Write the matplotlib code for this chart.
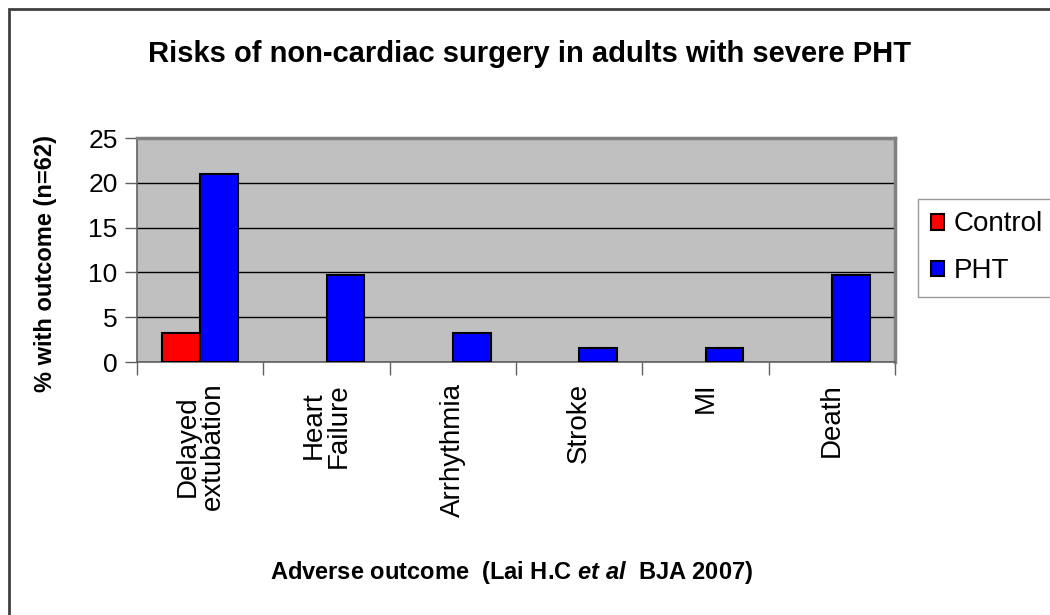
import numpy as np
import matplotlib.pyplot as plt
from matplotlib.patches import Rectangle

plt.rcParams['font.family'] = ['Liberation Sans', 'DejaVu Sans']
plt.rcParams['mathtext.fontset'] = 'custom'
plt.rcParams['mathtext.it'] = 'Liberation Sans:italic:bold'
plt.rcParams['mathtext.rm'] = 'Liberation Sans:bold'

categories = ['Delayed\nextubation', 'Heart\nFailure', 'Arrhythmia', 'Stroke', 'MI', 'Death']
control = [3.2, 0, 0, 0, 0, 0]
pht = [21.0, 9.7, 3.2, 1.6, 1.6, 9.7]
series_names = ['Control', 'PHT']
colors = ['#FF0000', '#0000FF']

fig = plt.figure(figsize=(10.5, 6.15), dpi=100)
ax = fig.add_axes([137 / 1050, 1 - 362 / 615, (895 - 137) / 1050, (362 - 138) / 615])
ax.set_facecolor('#C0C0C0')

x = np.arange(len(categories))
w = 0.3
for vals, name, c, off in zip([control, pht], series_names, colors, [-w / 2, w / 2]):
    bars = ax.bar(x + off, vals, w, color=c, edgecolor='black', linewidth=1.5, label=name, zorder=3)
    for b, v in zip(bars, vals):
        if v == 0:
            b.set_visible(False)

ax.set_xlim(-0.5, len(categories) - 0.5)
ax.set_ylim(0, 25)
ax.set_yticks(range(0, 26, 5))
ax.yaxis.grid(True, color='black', linewidth=1, zorder=1)
ax.set_axisbelow(True)

ax.set_xticks(x)
ax.set_xticklabels(categories, rotation=90, fontsize=20, linespacing=0.95)
ax.set_xticks(np.arange(-0.5, len(categories)), minor=True)
ax.tick_params(axis='x', which='major', length=0, pad=15)
ax.tick_params(axis='x', which='minor', length=9, width=1, color='#606060', direction='out')
ax.tick_params(axis='y', length=9, width=1, color='#606060', labelsize=19, pad=5)

for s in ['left', 'bottom']:
    ax.spines[s].set_color('#606060')
    ax.spines[s].set_linewidth(1.2)
for s in ['top', 'right']:
    ax.spines[s].set_color('#808080')
    ax.spines[s].set_linewidth(2.5)

ax.set_ylabel('% with outcome (n=62)', fontsize=17, fontweight='bold')
ax.yaxis.set_label_coords((57 - 137) / 758, (362 - 263) / 224)
fig.text(512 / 1050, 1 - 572 / 615, r'Adverse outcome  (Lai H.C $et\ al$  BJA 2007)',
         fontsize=17, fontweight='bold', ha='center', va='center')
fig.text(530 / 1050, 1 - 54 / 615, 'Risks of non-cardiac surgery in adults with severe PHT',
         fontsize=21, fontweight='bold', ha='center', va='center')

leg = fig.legend(loc='upper left', bbox_to_anchor=(918 / 1050, 1 - 199 / 615),
                 fontsize=20, frameon=True, fancybox=False, handlelength=0.5, handleheight=0.5,
                 handletextpad=0.35, borderpad=0.45, labelspacing=0.75, borderaxespad=0)
leg.get_frame().set_edgecolor('#808080')
leg.get_frame().set_linewidth(1)

fig.patches.append(Rectangle((9 / 1050, -0.1), 1.2, 1 - 9 / 615 + 0.1, transform=fig.transFigure,
                             fill=False, edgecolor='#404040', linewidth=2))

fig.savefig('out.png', dpi=100)
